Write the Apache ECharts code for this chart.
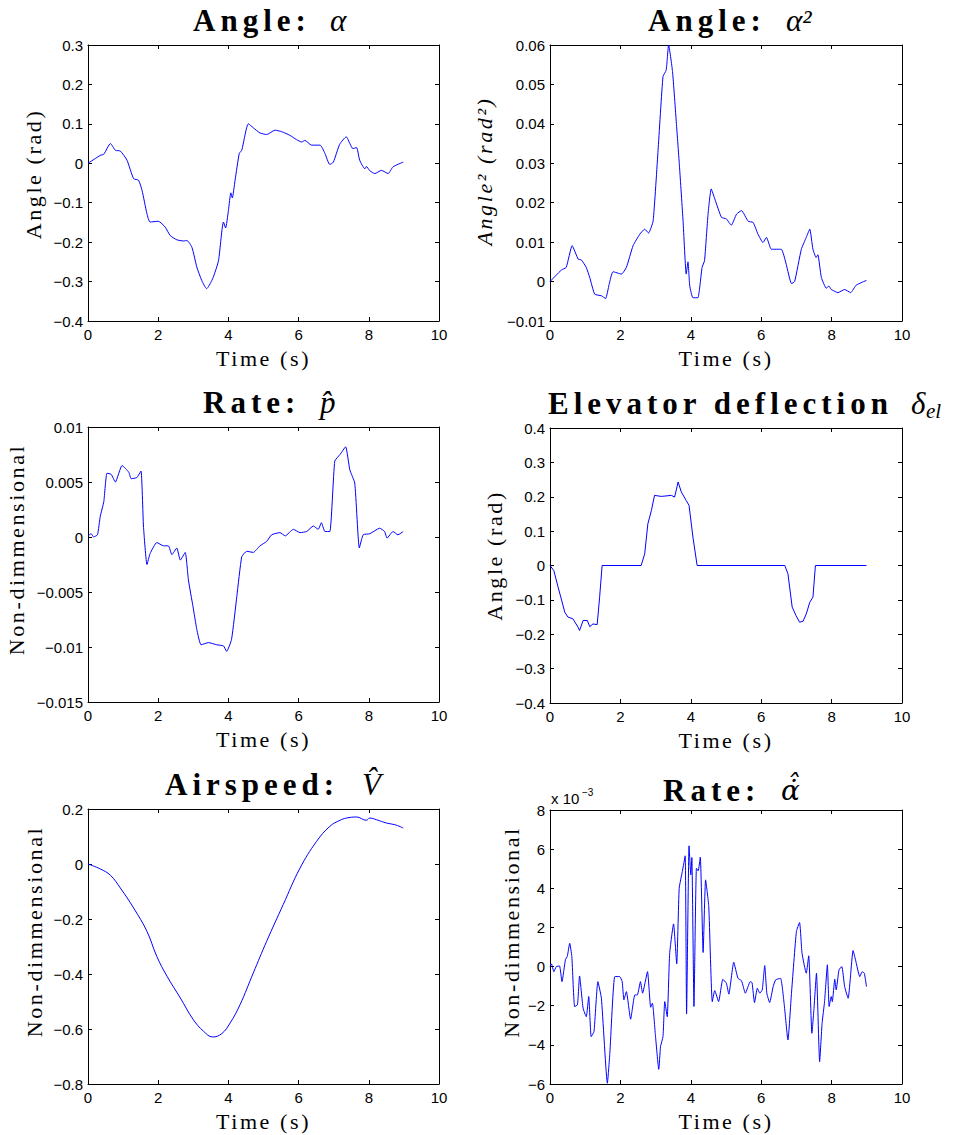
<!DOCTYPE html>
<html>
<head>
<meta charset="utf-8">
<script src="https://cdn.jsdelivr.net/npm/echarts@6/dist/echarts.min.js"></script>
<style>
  html, body { margin: 0; padding: 0; background: #fff; }
  #chart { width: 958px; height: 1135px; }
  /* LaTeX-like wide spacing for the serif labels */
  #chart svg text[style*="Liberation Serif"][style*="bold"] { letter-spacing: 5px; }
  #chart svg text[style*="Liberation Serif"][style*="22px"] { letter-spacing: 2.6px; }
</style>
</head>
<body>
<div id="chart"></div>
<script>
// Angle alpha (rad)
const tAlpha = [0,0.35,0.45,0.64,0.78,0.92,1.11,1.3,1.44,1.54,1.68,1.77,2.0,2.2,2.34,2.53,2.72,2.82,2.96,3.1,3.24,3.38,3.53,3.62,3.72,3.86,3.92,4.0,4.07,4.11,4.19,4.31,4.38,4.57,4.71,4.9,5.09,5.33,5.52,5.75,5.94,6.09,6.18,6.37,6.61,6.75,6.89,6.99,7.17,7.36,7.46,7.55,7.65,7.74,7.89,7.93,8.03,8.17,8.36,8.55,8.69,8.98];
const alpha = [0,0.02,0.023,0.05,0.033,0.031,0.008,-0.039,-0.043,-0.069,-0.128,-0.149,-0.147,-0.162,-0.183,-0.194,-0.197,-0.196,-0.213,-0.263,-0.297,-0.318,-0.297,-0.276,-0.246,-0.149,-0.164,-0.12,-0.075,-0.088,-0.043,0.025,0.033,0.1,0.09,0.077,0.073,0.084,0.08,0.071,0.06,0.054,0.058,0.046,0.046,0.025,-0.003,0.003,0.048,0.067,0.05,0.037,0.04,0.008,-0.014,-0.008,-0.019,-0.026,-0.018,-0.026,-0.009,0.003];

// Angle squared
const tAlphaSq = [0,0.32,0.46,0.63,0.8,0.89,1.03,1.13,1.27,1.46,1.58,1.68,1.79,2.03,2.17,2.36,2.55,2.69,2.8,2.93,3.07,3.21,3.3,3.37,3.48,3.59,3.68,3.78,3.87,3.92,3.97,4.06,4.2,4.32,4.39,4.49,4.58,4.68,4.87,5.01,5.15,5.3,5.44,5.63,5.77,5.91,6.05,6.15,6.29,6.57,6.71,6.86,6.95,7.14,7.28,7.38,7.47,7.56,7.61,7.71,7.85,7.92,7.99,8.18,8.37,8.54,8.7,8.99];
const alphaSq = [0,0.0029,0.0036,0.0091,0.0057,0.0055,0.0036,0.001,-0.0032,-0.0036,-0.0043,-0.0007,0.0025,0.0019,0.0036,0.0091,0.012,0.0133,0.0123,0.0154,0.0333,0.052,0.0536,0.06,0.0533,0.0402,0.029,0.0154,0.0019,0.005,-0.0011,-0.0041,-0.0041,0.0036,0.0053,0.0171,0.0235,0.021,0.0163,0.0159,0.0143,0.0171,0.018,0.0153,0.015,0.012,0.0099,0.0112,0.0082,0.0082,0.0044,-0.0005,0,0.0082,0.0112,0.0133,0.0082,0.0061,0.0068,0.001,-0.0017,-0.0011,-0.002,-0.0028,-0.002,-0.0028,-0.0009,0.0003];

// Rate p hat
const tP = [0,0.09,0.16,0.27,0.35,0.45,0.54,0.66,0.78,0.97,1.16,1.23,1.39,1.51,1.58,1.68,1.77,1.96,2.15,2.29,2.39,2.53,2.63,2.77,2.86,2.99,3.1,3.22,3.43,3.67,3.86,3.95,4.09,4.24,4.38,4.52,4.71,4.9,5.09,5.23,5.47,5.62,5.85,6.04,6.23,6.42,6.56,6.65,6.75,6.89,7.03,7.18,7.34,7.46,7.6,7.73,7.84,8.03,8.31,8.45,8.52,8.69,8.83,8.98];
const pHat = [0.0001,0.0003,0,0.0002,0.0019,0.0032,0.0058,0.0057,0.005,0.0065,0.0059,0.0053,0.0054,0.006,0.001,-0.0025,-0.0015,-0.0005,-0.0008,-0.0008,-0.0016,-0.001,-0.0021,-0.0014,-0.0039,-0.0063,-0.0084,-0.0098,-0.0096,-0.0098,-0.0099,-0.0104,-0.0093,-0.0054,-0.0018,-0.0013,-0.0014,-0.0008,-0.0004,0.0002,0.0004,0.0001,0.0007,0.0004,0.0005,0.001,0.0007,0.0013,0.0005,0.0005,0.0069,0.0075,0.0082,0.0061,0.0049,-0.001,0.0002,0.0003,0.0008,0.0005,-0.0001,0.0005,0.0002,0.0005];

// Elevator deflection (rad)
const tDelta = [0,0.11,0.23,0.32,0.42,0.51,0.65,0.8,0.84,0.94,1.06,1.13,1.22,1.34,1.41,1.48,2.59,2.69,2.78,2.88,2.97,3.16,3.45,3.54,3.64,3.73,3.87,3.95,4.06,4.18,6.67,6.76,6.88,6.99,7.09,7.19,7.28,7.38,7.47,7.54,8.99];
const deltaEl = [0,-0.015,-0.063,-0.097,-0.136,-0.15,-0.155,-0.18,-0.189,-0.16,-0.16,-0.178,-0.17,-0.172,-0.092,0,0,0.034,0.121,0.16,0.204,0.201,0.204,0.199,0.243,0.214,0.189,0.175,0.083,0,0,-0.024,-0.121,-0.146,-0.165,-0.162,-0.141,-0.107,-0.092,0,0];

// Airspeed V hat
const tV = [0,0.35,0.64,0.92,1.3,1.68,1.96,2.25,2.63,3.0,3.29,3.55,3.81,4.05,4.33,4.71,5.09,5.56,6.04,6.51,6.89,7.18,7.36,7.65,7.93,8.03,8.22,8.5,8.74,8.98];
const vHat = [0,-0.018,-0.041,-0.087,-0.16,-0.245,-0.336,-0.408,-0.487,-0.566,-0.608,-0.629,-0.617,-0.578,-0.512,-0.396,-0.281,-0.148,-0.015,0.082,0.137,0.159,0.167,0.171,0.159,0.167,0.161,0.149,0.143,0.131];

// Rate alpha-dot hat, in units of 1e-3
const tAlphaDot = [0,0.04,0.11,0.18,0.27,0.34,0.44,0.49,0.56,0.62,0.7,0.78,0.84,0.94,1.03,1.1,1.17,1.25,1.36,1.46,1.63,1.7,1.84,1.98,2.05,2.1,2.17,2.29,2.41,2.48,2.57,2.63,2.77,2.86,2.91,2.99,3.09,3.14,3.21,3.26,3.33,3.4,3.51,3.6,3.67,3.76,3.84,3.88,3.95,4.0,4.03,4.09,4.16,4.21,4.27,4.35,4.42,4.51,4.61,4.68,4.79,4.91,5.01,5.08,5.22,5.34,5.44,5.55,5.69,5.74,5.81,5.89,5.96,6.03,6.1,6.16,6.24,6.34,6.41,6.55,6.65,6.76,6.86,7.0,7.09,7.16,7.28,7.35,7.44,7.5,7.57,7.66,7.73,7.8,7.88,7.93,7.99,8.02,8.09,8.13,8.21,8.29,8.37,8.47,8.61,8.68,8.8,8.87,8.93,8.99];
const alphaDotHat = [0,0.14,-0.26,0,0.03,-0.77,0.37,0.51,1.19,0.51,-2.04,-1.96,-0.48,-2.13,-2.56,-1.53,-3.58,-3.32,-0.77,-1.62,-5.96,-4.43,-0.51,-0.51,-0.77,-1.7,-1.28,-2.69,-1.45,-1.45,-0.77,-1.36,-0.26,-2.08,-1.87,-3.41,-5.25,-4.09,-3.58,-1.79,-2.56,0.68,2.18,0.14,4.0,4.86,5.66,-2.42,6.17,4.69,5.57,-2.04,5.03,4.89,5.59,0.72,4.43,3.07,-1.79,-1.23,-1.79,-0.65,-0.85,-1.41,0.22,-0.6,-0.72,-1.36,-0.77,-0.82,-1.84,-1.11,-1.36,-1.19,0.05,-1.36,-1.84,-1.02,-0.68,-0.6,-1.87,-3.75,-1.36,1.79,2.25,0.68,-0.34,0.55,-3.41,-2.13,-0.34,-4.86,-2.9,-1.79,0.09,-2.04,-1.53,-1.79,-0.65,-1.19,-0.17,0,-1.02,-1.62,0.82,0.34,-0.51,-0.26,-0.34,-1.02];

const xTicks = {min: 0, max: 10, step: 2};

function zip(t, v) {
    const n = Math.min(t.length, v.length);
    const out = [];
    for (let i = 0; i < n; i++) out.push([t[i], v[i]]);
    return out;
}

const panels = [
    {t: tAlpha, v: alpha, min: -0.4, max: 0.3, step: 0.1, yName: 'Angle (rad)', italic: false, gap: 44, shift: 18, smooth: 0.2,
     grid: {left: 88, top: 45, width: 351, height: 276}},
    {t: tAlphaSq, v: alphaSq, min: -0.01, max: 0.06, step: 0.01, yName: 'Angle\u00b2 (rad\u00b2)', italic: true, gap: 55, shift: 24, smooth: 0.15,
     grid: {left: 550, top: 45, width: 352, height: 276}},
    {t: tP, v: pHat, min: -0.015, max: 0.01, step: 0.005, yName: 'Non-dimmensional', italic: false, gap: 61, shift: 30, smooth: 0.15,
     grid: {left: 88, top: 427, width: 351, height: 275}},
    {t: tDelta, v: deltaEl, min: -0.4, max: 0.4, step: 0.1, yName: 'Angle (rad)', italic: false, gap: 45, shift: 20, smooth: 0,
     grid: {left: 550, top: 428, width: 352, height: 275}},
    {t: tV, v: vHat, min: -0.8, max: 0.2, step: 0.2, yName: 'Non-dimmensional', italic: false, gap: 43, shift: 30, smooth: 0.4,
     grid: {left: 88, top: 809, width: 351, height: 275}},
    {t: tAlphaDot, v: alphaDotHat, min: -6, max: 8, step: 2, yName: 'Non-dimmensional', italic: false, gap: 28, shift: 30, smooth: 0.15,
     grid: {left: 550, top: 810, width: 352, height: 274}}
];

const black = '#000';
const tickFont = {fontFamily: 'Liberation Sans', fontSize: 15, color: black};
const serif = 'Liberation Serif';

function fmt(v) {
    return String(+(+v).toPrecision(6)).replace('-', '\u2212');
}

const grids = [], xAxes = [], yAxes = [], series = [];
panels.forEach(function (p, i) {
    grids.push(Object.assign({outerBoundsMode: 'none', containLabel: false}, p.grid));
    const line = {onZero: false, lineStyle: {color: black, width: 1}};
    const tick = {inside: true, length: 4, lineStyle: {color: black, width: 1}};
    xAxes.push({
        gridIndex: i, type: 'value', position: 'bottom',
        min: xTicks.min, max: xTicks.max, interval: xTicks.step,
        axisLine: line, axisTick: tick, splitLine: {show: false},
        axisLabel: Object.assign({margin: 6, formatter: fmt}, tickFont),
        name: 'Time (s)', nameLocation: 'middle', nameGap: 26,
        nameTextStyle: {fontFamily: serif, fontSize: 22, color: black}
    });
    xAxes.push({
        gridIndex: i, type: 'value', position: 'top',
        min: xTicks.min, max: xTicks.max, interval: xTicks.step,
        axisLine: line, axisTick: tick, splitLine: {show: false}, axisLabel: {show: false}
    });
    yAxes.push({
        gridIndex: i, type: 'value', position: 'left',
        min: p.min, max: p.max, interval: p.step,
        axisLine: line, axisTick: tick, splitLine: {show: false},
        axisLabel: Object.assign({margin: 5, formatter: fmt}, tickFont),
        name: p.yName, nameLocation: 'middle', nameGap: p.gap,
        nameTextStyle: {fontFamily: serif, fontSize: 22, color: black,
            fontStyle: p.italic ? 'italic' : 'normal', padding: [0, 0, 0, p.shift]}
    });
    yAxes.push({
        gridIndex: i, type: 'value', position: 'right',
        min: p.min, max: p.max, interval: p.step,
        axisLine: line, axisTick: tick, splitLine: {show: false}, axisLabel: {show: false}
    });
    series.push({
        type: 'line', xAxisIndex: 2 * i, yAxisIndex: 2 * i,
        data: zip(p.t, p.v), showSymbol: false, silent: true, smooth: p.smooth,
        lineStyle: {color: '#0000ff', width: 1}, itemStyle: {color: '#0000ff'}
    });
});

// titles: bold word part + math part
function txt(x, y, text, size, weight, style, family, align) {
    return {
        type: 'text', x: x, y: y, silent: true,
        style: {text: text, fontSize: size, fontWeight: weight || 'normal', fontStyle: style || 'normal',
            fontFamily: family || serif, fill: black,
            align: align || 'left', verticalAlign: 'middle', textAlign: align || 'left', textVerticalAlign: 'middle'}
    };
}
const graphics = [
    txt(193, 20, 'Angle:', 31, 'bold'), txt(330, 20, '\u03b1', 31, 'normal', 'italic'),
    txt(648, 20, 'Angle:', 31, 'bold'), txt(786, 20, '\u03b1\u00b2', 31, 'normal', 'italic'),
    txt(203, 402, 'Rate:', 31, 'bold'), txt(320, 402, 'p\u0302', 31, 'normal', 'italic'),
    txt(548, 403, 'Elevator deflection', 31, 'bold'), txt(911, 403, '\u03b4', 31, 'normal', 'italic'),
    txt(926, 411, 'el', 21, 'normal', 'italic'),
    txt(165, 784, 'Airspeed:', 31, 'bold'), txt(362, 784, 'V\u0302', 31, 'normal', 'italic'),
    txt(663, 790, 'Rate:', 31, 'bold'),
    txt(781, 790, '\u03b1\u0307\u0302', 28, 'normal', 'italic', 'DejaVu Serif'),
    txt(551, 798, 'x 10', 15, 'normal', 'normal', 'Liberation Sans'),
    txt(582, 792, '\u22123', 10, 'normal', 'normal', 'Liberation Sans')
];

const myChart = echarts.init(document.getElementById('chart'), null, {renderer: 'svg'});
myChart.setOption({
    animation: false,
    backgroundColor: '#fff',
    grid: grids,
    xAxis: xAxes,
    yAxis: yAxes,
    series: series,
    graphic: graphics
});
</script>
</body>
</html>
